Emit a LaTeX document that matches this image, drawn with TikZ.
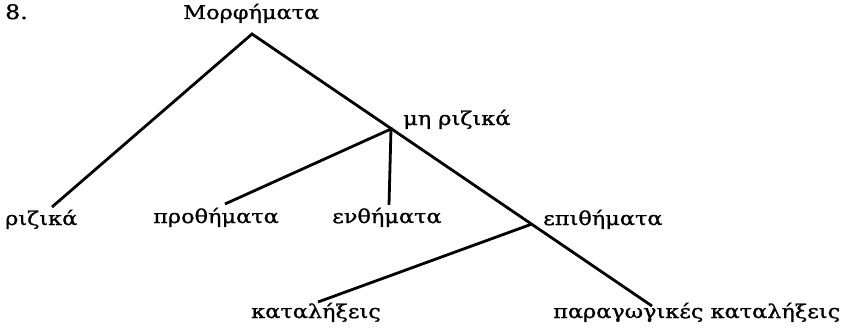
\documentclass[tikz,border=0pt]{standalone}
\usepackage{fontspec}
\setmainfont{DejaVu Serif}
\newfontfamily\grk[FakeStretch=1.18,FakeBold=1.2]{DejaVu Serif}
\begin{document}
\begin{tikzpicture}[x=1pt,y=-1pt,
  lbl/.style={anchor=base west,inner sep=0pt,font=\grk\fontsize{19}{22}\selectfont},
  br/.style={line width=2.8pt}]
\useasboundingbox (0,0) rectangle (851,332);
\node[lbl,font=\grk\fontsize{20}{22}\selectfont] (num) at (5,19) {8.};
\node[lbl] (root) at (183,19) {Μορφήματα};
\node[lbl] (mr) at (403,125) {μη ριζικά};
\node[lbl] (riz) at (5,225) {ριζικά};
\node[lbl] (pro) at (153,223) {προθήματα};
\node[lbl] (enth) at (332,223) {ενθήματα};
\node[lbl] (epi) at (543,225) {επιθήματα};
\node[lbl] (kat) at (251,318) {καταλήξεις};
\node[lbl] (par) at (553,318) {παραγωγικές καταλήξεις};
\coordinate (apex) at (252,34);
\coordinate (j1) at (391,129);
\coordinate (j2) at (532,224);
\coordinate (rizE) at (52,207);
\coordinate (parE) at (652,306);
\coordinate (proE) at (225,204);
\coordinate (enthE) at (389,205);
\coordinate (katE) at (318,302);
\draw[br] (rizE) -- (apex) -- (parE);
\draw[br] (proE) -- (j1) -- (enthE);
\draw[br] (j2) -- (katE);
\end{tikzpicture}
\end{document}
